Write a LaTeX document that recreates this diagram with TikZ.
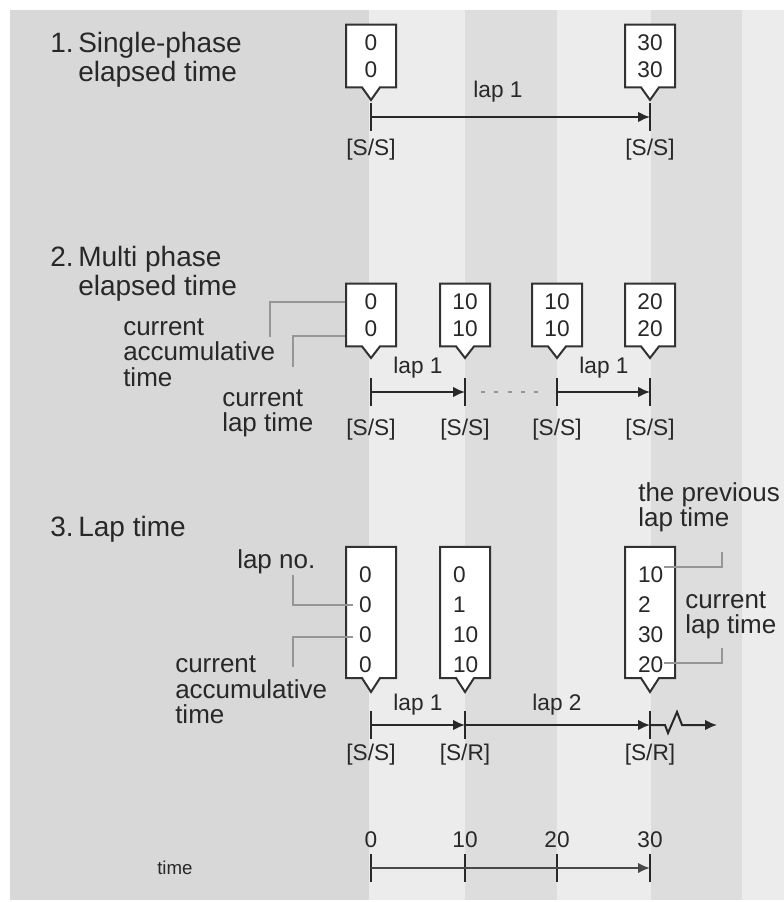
\documentclass[tikz,border=0pt]{standalone}
\usepackage{fontspec}
\setmainfont{Liberation Sans}
\usepackage{xcolor}
\usepackage{tikz}
\definecolor{bggray}{RGB}{216, 216, 216}
\definecolor{stripelight}{RGB}{236, 236, 236}
\definecolor{stripemid}{RGB}{221, 221, 221}
\definecolor{inkgray}{RGB}{40, 40, 40}
\definecolor{boxgray}{RGB}{50, 50, 50}
\definecolor{leadergray}{RGB}{150, 150, 150}
\usetikzlibrary{shapes.callouts, arrows.meta, positioning, calc}

\begin{document}
\begin{tikzpicture}[
    x=0.75pt, y=-0.75pt,
    every node/.style={text=inkgray},
    title/.style={font=\fontsize{21}{21.5}\selectfont, align=left, inner sep=0pt, anchor=north west},
    note/.style={font=\fontsize{19.5}{19}\selectfont, align=left, inner sep=0pt, anchor=west},
    lbl/.style={font=\fontsize{17}{17}\selectfont, inner sep=0pt},
    valbox/.style={rectangle callout, draw=boxgray, line width=1.5pt, fill=white, minimum width=37.5pt, inner sep=0pt, callout pointer width=13.5pt, callout absolute pointer={#1}},
    shortbox/.style={valbox={#1}, minimum height=47pt, align=center, font=\fontsize{17}{20}\selectfont, execute at begin node={\rule{0pt}{19.5pt}}},
    tallbox/.style={valbox={#1}, minimum height=98.3pt, align=left, text width=18pt, font=\fontsize{17}{22.5}\selectfont, execute at begin node={\rule{0pt}{22.5pt}}},
    tickmark/.style={draw=inkgray, line width=1.5pt},
    arr/.style={draw=inkgray, line width=1.5pt, -{Latex[length=9pt, width=8pt]}},
    axis/.style={draw=inkgray!85, line width=2pt, -{Latex[length=9pt, width=8pt]}},
    leader/.style={draw=leadergray, line width=1.1pt},
    dots/.style={draw=leadergray, line width=1.5pt, dash pattern=on 3pt off 7pt},
]
    \useasboundingbox (0,0) rectangle (784,902);

    % Background stripes
    \fill[white] (0,0) rectangle (784,902);
    \fill[bggray] (10,10) rectangle (784,900);
    \fill[stripelight] (369,10) rectangle (465,900);
    \fill[stripemid] (465,10) rectangle (557,900);
    \fill[stripelight] (557,10) rectangle (651,900);
    \fill[stripemid] (651,10) rectangle (742,900);
    \fill[stripelight] (742,10) rectangle (784,900);

    % 1. Single-phase elapsed time
    \node[title] (title1) at (50,32) {1.\,Single-phase\\\phantom{1.\,}elapsed time};
    \node[shortbox={(371,100)}] (b10) at (371,56) {0\\0};
    \node[shortbox={(650,100)}] (b13) at (650,56) {30\\30};
    \coordinate (s10) at (371,117);
    \coordinate (s13) at (650,117);
    \foreach \p in {s10, s13} {
        \draw[tickmark] (\p) ++(0,-14) -- ++(0,28);
    }
    \draw[arr] (s10) -- (s13);
    \node[lbl] (lap10) at (498,92) {lap 1};
    \node[lbl] (ss10) at (371,150) {[S/S]};
    \node[lbl] (ss13) at (650,150) {[S/S]};

    % 2. Multi phase elapsed time
    \node[title] (title2) at (50,246) {2.\,Multi phase\\\phantom{2.\,}elapsed time};
    \node[shortbox={(371,358)}] (b20) at (371,315) {0\\0};
    \node[shortbox={(465,358)}] (b21) at (465,315) {10\\10};
    \node[shortbox={(557,358)}] (b22) at (557,315) {10\\10};
    \node[shortbox={(650,358)}] (b23) at (650,315) {20\\20};
    \coordinate (s20) at (371,392);
    \coordinate (s21) at (465,392);
    \coordinate (s22) at (557,392);
    \coordinate (s23) at (650,392);
    \foreach \p in {s20, s21, s22, s23} {
        \draw[tickmark] (\p) ++(0,-14) -- ++(0,28);
    }
    \draw[arr] (s20) -- (s21);
    \draw[dots, shorten <=12pt, shorten >=7pt] (s21) -- (s22);
    \draw[arr] (s22) -- (s23);
    \node[lbl] (lap20) at (418,368) {lap 1};
    \node[lbl] (lap22) at (604,368) {lap 1};
    \node[lbl] (ss20) at (371,430) {[S/S]};
    \node[lbl] (ss21) at (465,430) {[S/S]};
    \node[lbl] (ss22) at (557,430) {[S/S]};
    \node[lbl] (ss23) at (650,430) {[S/S]};
    \node[note] (acc2) at (123,352.5) {current\\accumulative\\time};
    \node[note] (lapt2) at (222,413.5) {current\\lap time};
    \coordinate (k21) at (270,337);
    \coordinate (k22) at (293,367);
    \draw[leader] (k21) |- ($(b20.west)+(0,-13)$);
    \draw[leader] (k22) |- ($(b20.west)+(0,21)$);

    % 3. Lap time
    \node[title] (title3) at (50,516) {3.\,Lap time};
    \node[tallbox={(371,692)}] (b30) at (371,612.5) {0\\0\\0\\0};
    \node[tallbox={(465,692)}] (b31) at (465,612.5) {0\\1\\10\\10};
    \node[tallbox={(650,692)}] (b33) at (650,612.5) {10\\2\\30\\20};
    \coordinate (s30) at (371,725);
    \coordinate (s31) at (465,725);
    \coordinate (s33) at (650,725);
    \coordinate (s3end) at (717,725);
    \foreach \p in {s30, s31, s33} {
        \draw[tickmark] (\p) ++(0,-14) -- ++(0,28);
    }
    \draw[arr] (s30) -- (s31);
    \draw[arr] (s31) -- (s33);
    \draw[arr] (s33) -- ++(15,0) -- ++(3,8) -- ++(9,-21) -- ++(5,13) -- (s3end);
    \node[lbl] (lap30) at (418,705) {lap 1};
    \node[lbl] (lap31) at (557,705) {lap 2};
    \node[lbl] (ss30) at (371,755) {[S/S]};
    \node[lbl] (sr31) at (465,755) {[S/R]};
    \node[lbl] (sr33) at (650,755) {[S/R]};
    \node[note] (lapno) at (237,562) {lap no.};
    \node[note] (acc3) at (175,690) {current\\accumulative\\time};
    \node[note] (prev3) at (638,507.5) {the previous\\lap time};
    \node[note] (lapt3) at (685,615.5) {current\\lap time};
    \coordinate (k31) at (293,575);
    \coordinate (k32) at (293,667);
    \coordinate (k33) at (722,552);
    \coordinate (k34) at (722,648);
    \draw[leader] (k31) |- ($(b30.west)+(8,-7.5)$);
    \draw[leader] (k32) |- ($(b30.west)+(8,24.5)$);
    \draw[leader] ($(b33.east)+(-12,-45.5)$) -| (k33);
    \draw[leader] ($(b33.east)+(-12,50.5)$) -| (k34);

    % time axis
    \node[note, font=\fontsize{14}{14}\selectfont] (time) at (157,868) {time};
    \coordinate (t0) at (371,868);
    \coordinate (t1) at (465,868);
    \coordinate (t2) at (557,868);
    \coordinate (t3) at (650,868);
    \foreach \p/\v in {t0/0, t1/10, t2/20, t3/30} {
        \draw[tickmark] (\p) ++(0,-14) -- ++(0,28);
        \node[lbl] (v\p) at ($(\p)+(0,-28)$) {\v};
    }
    \draw[axis] (t0) -- (t3);

\end{tikzpicture}
\end{document}
